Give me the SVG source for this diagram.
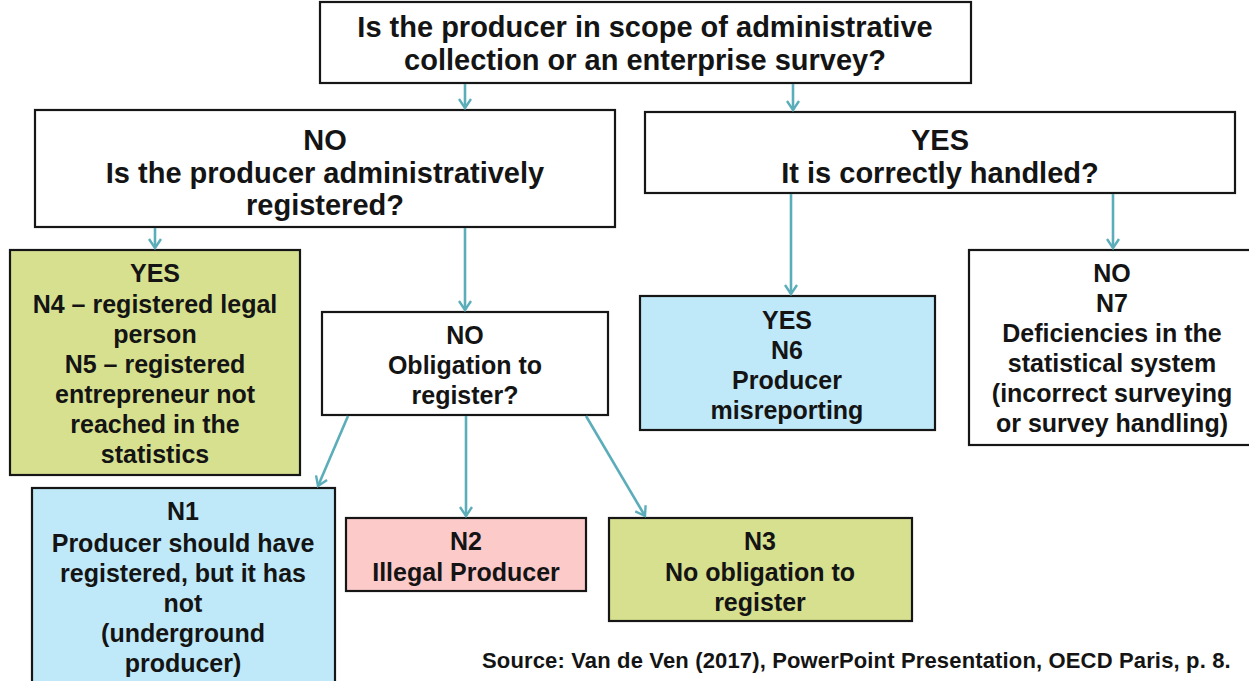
<svg xmlns="http://www.w3.org/2000/svg" width="1249" height="681" viewBox="0 0 1249 681">
<defs>
<style>
.box{stroke:#161616;stroke-width:2.2}
.w{fill:#ffffff}
.g{fill:#d7e08f}
.b{fill:#bfe9f9}
.p{fill:#fdcaca}
text{font-family:"Liberation Sans",Arial,sans-serif;font-weight:bold;fill:#141414;text-anchor:middle}
.t1{font-size:29px}
.t2{font-size:29px}
.t3{font-size:25px}
.src{font-size:22px;letter-spacing:0.15px;text-anchor:start}
.conn line{stroke:#5badb9;stroke-width:2.6;fill:none;marker-end:url(#ah)}
</style>
<marker id="ah" viewBox="-10 -7 12 14" markerWidth="12" markerHeight="14" refX="0" refY="0" orient="auto" markerUnits="userSpaceOnUse">
<path d="M-9,-6 L0,0 L-9,6" fill="none" stroke="#5badb9" stroke-width="2.4"/>
</marker>
</defs>
<rect width="1249" height="681" fill="#ffffff"/>

<g id="q-scope">
<rect class="box w" x="320" y="2" width="651" height="81"/>
<text class="t1" x="645" y="37">Is the producer in scope of administrative</text>
<text class="t1" x="645" y="70">collection or an enterprise survey?</text>
</g>

<g id="q-registered">
<rect class="box w" x="35" y="110" width="580" height="117"/>
<text class="t2" x="325" y="150">NO</text>
<text class="t2" x="325" y="183">Is the producer administratively</text>
<text class="t2" x="325" y="215">registered?</text>
</g>

<g id="q-handled">
<rect class="box w" x="645" y="112" width="590" height="81"/>
<text class="t2" x="940" y="150">YES</text>
<text class="t2" x="940" y="183">It is correctly handled?</text>
</g>

<g id="n4-n5">
<rect class="box g" x="10" y="250" width="290" height="225"/>
<text class="t3" x="155" y="282">YES</text>
<text class="t3" x="155" y="313">N4 – registered legal</text>
<text class="t3" x="155" y="343">person</text>
<text class="t3" x="155" y="373">N5 – registered</text>
<text class="t3" x="155" y="403">entrepreneur not</text>
<text class="t3" x="155" y="433">reached in the</text>
<text class="t3" x="155" y="463">statistics</text>
</g>

<g id="q-obligation">
<rect class="box w" x="322" y="312" width="286" height="103"/>
<text class="t3" x="465" y="344">NO</text>
<text class="t3" x="465" y="374">Obligation to</text>
<text class="t3" x="465" y="404">register?</text>
</g>

<g id="n6">
<rect class="box b" x="640" y="296" width="295" height="134"/>
<text class="t3" x="787" y="329">YES</text>
<text class="t3" x="787" y="359">N6</text>
<text class="t3" x="787" y="389">Producer</text>
<text class="t3" x="787" y="419">misreporting</text>
</g>

<g id="n7">
<rect class="box w" x="969" y="250" width="290" height="195"/>
<text class="t3" x="1112" y="282">NO</text>
<text class="t3" x="1112" y="312">N7</text>
<text class="t3" x="1112" y="342">Deficiencies in the</text>
<text class="t3" x="1112" y="372">statistical system</text>
<text class="t3" x="1112" y="402">(incorrect surveying</text>
<text class="t3" x="1112" y="432">or survey handling)</text>
</g>

<g id="n1">
<rect class="box b" x="32" y="488" width="303" height="200"/>
<text class="t3" x="183" y="520">N1</text>
<text class="t3" x="183" y="552">Producer should have</text>
<text class="t3" x="183" y="582">registered, but it has</text>
<text class="t3" x="183" y="612">not</text>
<text class="t3" x="183" y="642">(underground</text>
<text class="t3" x="183" y="672">producer)</text>
</g>

<g id="n2">
<rect class="box p" x="346" y="518" width="240" height="73"/>
<text class="t3" x="466" y="550">N2</text>
<text class="t3" x="466" y="581">Illegal Producer</text>
</g>

<g id="n3">
<rect class="box g" x="609" y="518" width="303" height="103"/>
<text class="t3" x="760" y="550">N3</text>
<text class="t3" x="760" y="581">No obligation to</text>
<text class="t3" x="760" y="611">register</text>
</g>

<g id="connectors" class="conn">
<line x1="465" y1="84" x2="465" y2="108"/>
<line x1="793" y1="84" x2="793" y2="110"/>
<line x1="155" y1="228" x2="155" y2="248"/>
<line x1="465" y1="228" x2="465" y2="310"/>
<line x1="791" y1="194" x2="791" y2="294"/>
<line x1="1113" y1="194" x2="1113" y2="248"/>
<line x1="348" y1="416" x2="318" y2="486"/>
<line x1="466" y1="416" x2="466" y2="516"/>
<line x1="586" y1="416" x2="645" y2="516"/>
</g>

<text class="src" x="482" y="668">Source: Van de Ven (2017), PowerPoint Presentation, OECD Paris, p. 8.</text>
</svg>
